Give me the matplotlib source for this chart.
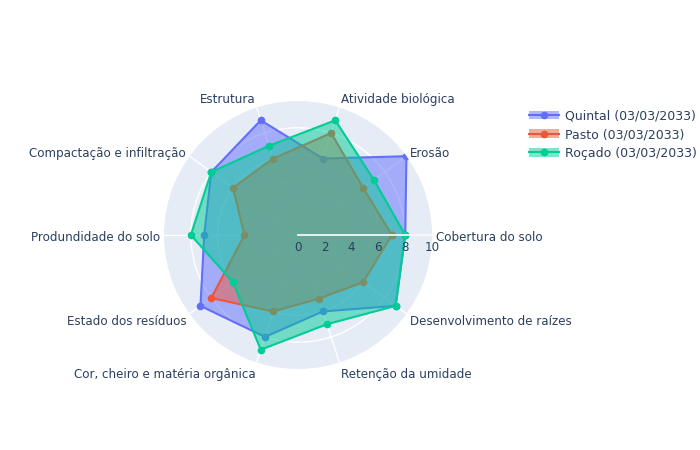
import numpy as np
import matplotlib
matplotlib.use("Agg")
import matplotlib.pyplot as plt
from matplotlib.lines import Line2D
from matplotlib.patches import Patch
from matplotlib.legend_handler import HandlerTuple

categories = ["Cobertura do solo", "Erosão", "Atividade biológica", "Estrutura",
              "Compactação e infiltração", "Produndidade do solo", "Estado dos resíduos",
              "Cor, cheiro e matéria orgânica", "Retenção da umidade",
              "Desenvolvimento de raízes"]
quintal = [8, 10, 6, 9, 8, 7, 9, 8, 6, 9]
pasto = [7, 6, 8, 6, 6, 4, 8, 6, 5, 6]
rocado = [8, 7, 9, 7, 8, 8, 6, 9, 7, 9]
series = [("Quintal (03/03/2033)", quintal, "#636EFA"),
          ("Pasto (03/03/2033)", pasto, "#EF553B"),
          ("Roçado (03/03/2033)", rocado, "#00CC96")]
rticks = [0, 2, 4, 6, 8, 10]

txt = "#2a3f5f"
plt.rcParams["font.family"] = ["DejaVu Sans"]

fig = plt.figure(figsize=(7, 4.5), dpi=100)
ax = fig.add_axes([0.2343, 0.18, 0.3829, 0.5956], projection="polar")
ax.set_facecolor("#E5ECF6")
ax.spines["polar"].set_visible(False)
ax.set_ylim(0, 10)

n = len(categories)
theta = np.arange(n) * 2 * np.pi / n

ax.set_xticks(theta)
ax.set_xticklabels([])
ax.set_yticks([2, 4, 6, 8])
ax.set_yticklabels([])
ax.grid(color="white", linewidth=1)
ax.tick_params(length=0)

handles = []
for i, (name, vals, col) in enumerate(series):
    t = np.append(theta, theta[0])
    v = np.append(vals, vals[0])
    ax.fill(t, v, color=col, alpha=0.5, lw=0, zorder=3 + 2 * i)
    ax.plot(t, v, color=col, lw=1.5, marker="o", ms=4.5, zorder=4 + 2 * i)
    handles.append((Patch(facecolor=col, alpha=0.5, edgecolor="none"),
                    Line2D([], [], color=col, lw=1.5, marker="o", ms=4.5)))

# radial axis line and tick labels
ax.plot([0, 0], [0, 10], color="#f4f6fa", lw=1.3, zorder=20)
for r in rticks:
    ax.annotate(str(r), (0, r), xytext=(0, -4), textcoords="offset points",
                ha="center", va="top", fontsize=8.6, color=txt, zorder=21)

# category labels
for ang, lab in zip(theta, categories):
    c, s = np.cos(ang), np.sin(ang)
    ha = "left" if c > 0.01 else ("right" if c < -0.01 else "center")
    if s >= 0:
        dy = s * (3 + 5 * abs(s)) - 1.5
    else:
        dy = s * (5 + 3 * abs(s)) - 1.5
    ax.annotate(lab, (ang, 10), xytext=(3 * c, dy), textcoords="offset points",
                ha=ha, va="center", fontsize=8.6, color=txt, annotation_clip=False)

fig.legend(handles, [s[0] for s in series],
           handler_map={tuple: HandlerTuple(ndivide=1, pad=0)},
           loc="upper left", bbox_to_anchor=(0.749, 0.768), frameon=False,
           fontsize=9, labelcolor=txt, handlelength=2.4, handletextpad=0.45,
           labelspacing=0.45, borderaxespad=0)

fig.savefig("out.png", dpi=100)
